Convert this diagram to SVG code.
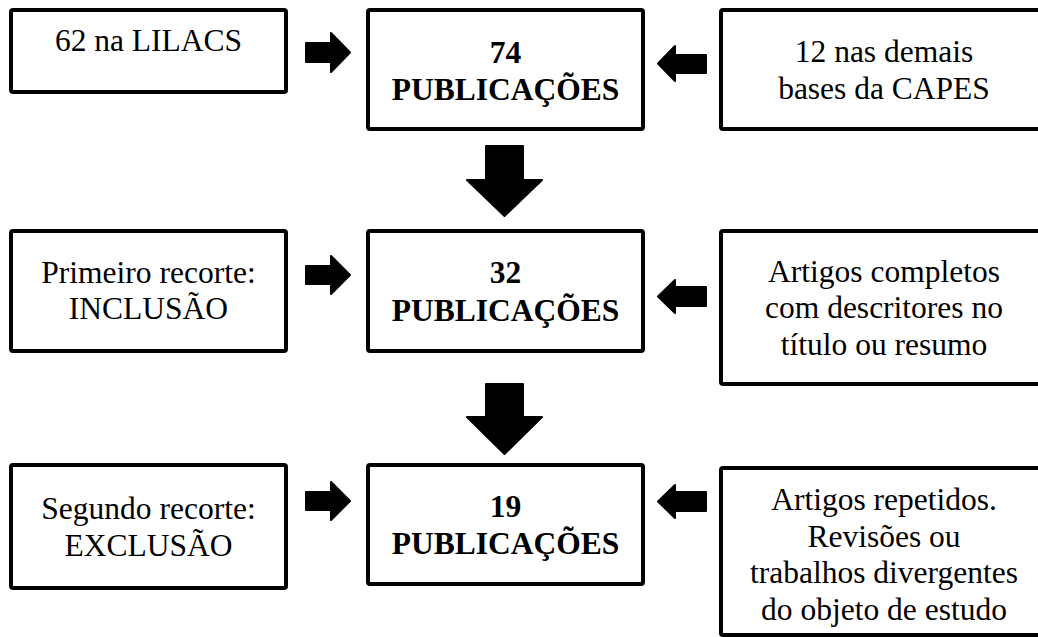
<svg xmlns="http://www.w3.org/2000/svg" width="1038" height="637" viewBox="0 0 1038 637">
<style>
.box{fill:#fff;stroke:#000;stroke-width:4;}
.arr{fill:#000;stroke:#000;stroke-width:2;stroke-linejoin:round;}
</style>
<rect width="1038" height="637" fill="#fff"/>
<g id="n1"><rect class="box" x="11" y="10" width="275" height="82" rx="2"/><text font-family="Liberation Serif" font-size="31.5" text-anchor="middle" x="148.5" y="51">62 na LILACS</text></g>
<g id="n2"><rect class="box" x="368" y="10" width="275" height="119" rx="2"/><text font-family="Liberation Serif" font-size="31.5" font-weight="bold" text-anchor="middle" x="505.5" y="63">74</text><text font-family="Liberation Serif" font-size="31.5" font-weight="bold" text-anchor="middle" x="505.5" y="100">PUBLICAÇÕES</text></g>
<g id="n3"><rect class="box" x="721" y="10" width="330" height="119" rx="2"/><text font-family="Liberation Serif" font-size="31.5" text-anchor="middle" x="884" y="62">12 nas demais</text><text font-family="Liberation Serif" font-size="31.5" text-anchor="middle" x="884" y="99">bases da CAPES</text></g>
<g id="n4"><rect class="box" x="11" y="231" width="275" height="120" rx="2"/><text font-family="Liberation Serif" font-size="31.5" text-anchor="middle" x="148.5" y="283">Primeiro recorte:</text><text font-family="Liberation Serif" font-size="31.5" text-anchor="middle" x="148.5" y="319">INCLUSÃO</text></g>
<g id="n5"><rect class="box" x="368" y="231" width="275" height="120" rx="2"/><text font-family="Liberation Serif" font-size="31.5" font-weight="bold" text-anchor="middle" x="505.5" y="283">32</text><text font-family="Liberation Serif" font-size="31.5" font-weight="bold" text-anchor="middle" x="505.5" y="321">PUBLICAÇÕES</text></g>
<g id="n6"><rect class="box" x="721" y="231" width="330" height="153" rx="2"/><text font-family="Liberation Serif" font-size="31.5" text-anchor="middle" x="884" y="282">Artigos completos</text><text font-family="Liberation Serif" font-size="31.5" text-anchor="middle" x="884" y="318">com descritores no</text><text font-family="Liberation Serif" font-size="31.5" text-anchor="middle" x="884" y="355">título ou resumo</text></g>
<g id="n7"><rect class="box" x="11" y="465" width="275" height="123" rx="2"/><text font-family="Liberation Serif" font-size="31.5" text-anchor="middle" x="148.5" y="519">Segundo recorte:</text><text font-family="Liberation Serif" font-size="31.5" text-anchor="middle" x="148.5" y="556">EXCLUSÃO</text></g>
<g id="n8"><rect class="box" x="368" y="465" width="275" height="119" rx="2"/><text font-family="Liberation Serif" font-size="31.5" font-weight="bold" text-anchor="middle" x="505.5" y="517">19</text><text font-family="Liberation Serif" font-size="31.5" font-weight="bold" text-anchor="middle" x="505.5" y="554">PUBLICAÇÕES</text></g>
<g id="n9"><rect class="box" x="721" y="468" width="330" height="167" rx="2"/><text font-family="Liberation Serif" font-size="31.5" text-anchor="middle" x="884" y="510">Artigos repetidos.</text><text font-family="Liberation Serif" font-size="31.5" text-anchor="middle" x="884" y="547">Revisões ou</text><text font-family="Liberation Serif" font-size="31.5" text-anchor="middle" x="884" y="583">trabalhos divergentes</text><text font-family="Liberation Serif" font-size="31.5" text-anchor="middle" x="884" y="620">do objeto de estudo</text></g>
<g id="connectors">
<path class="arr" d="M306,43 H331 V33 L350,52.5 L331,72 V62 H306 Z"/>
<path class="arr" d="M306,266 H331 V256 L350,275 L331,294 V284 H306 Z"/>
<path class="arr" d="M306,492 H331 V482 L350,501 L331,520 V510 H306 Z"/>
<path class="arr" d="M706,55 H675 V46 L658,63.5 L675,81 V73 H706 Z"/>
<path class="arr" d="M706,287 H675 V280 L658,296.5 L675,313 V306 H706 Z"/>
<path class="arr" d="M706,492 H675 V485 L658,501.5 L675,518 V511 H706 Z"/>
<path class="arr" d="M486,146 H523 V180 H542 L504.5,216 L467,180 H486 Z"/>
<path class="arr" d="M486,384 H523 V417 H542 L504.5,454 L467,417 H486 Z"/>
</g>
</svg>
